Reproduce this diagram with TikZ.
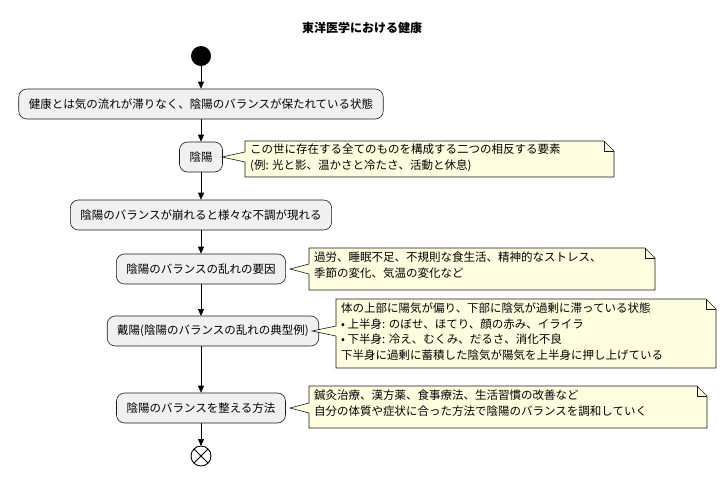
\documentclass[tikz,border=0pt]{standalone}
\usepackage{fontspec}
\setmainfont{Noto Sans CJK JP}
\usetikzlibrary{arrows.meta, positioning}
\tikzset{
  act/.style={draw=black!90, fill=black!6, rounded corners=8pt, line width=0.6pt,
    minimum height=30pt, inner xsep=10pt, font=\fontsize{11.5}{14}\selectfont},
  notebox/.style={draw=black!90, fill=yellow!12, line width=0.6pt},
  notetext/.style={anchor=north west, align=left, inner sep=0pt,
    font=\fontsize{11.5}{15.5}\selectfont},
  flow/.style={-{Triangle[length=7pt,width=6pt]}, line width=0.7pt}
}
\newcommand{\notepoly}[6]{% x1,y1,x2,y2, tipx, tipy
  \fill[notebox] (#1,#2) -- (#3-10,#2) -- (#3,#2+10) -- (#3,#4) -- (#1,#4)
    -- (#1,#6+5) -- (#5,#6) -- (#1,#6-5) -- cycle;
  \draw[notebox, fill=none] (#3-10,#2) -- (#3-10,#2+10) -- (#3,#2+10);
}
\begin{document}
\begin{tikzpicture}[x=1pt, y=-1pt]
  \useasboundingbox (0,0) rectangle (727,477);
  \node[font=\bfseries\fontsize{12}{14}\selectfont] (title) at (362,28) {東洋医学における健康};
  \fill (201,56) circle (10) coordinate (start);
  \node[act] (health) at (201,104) {健康とは気の流れが滞りなく、陰陽のバランスが保たれている状態};
  \node[act] (yinyang) at (201,157) {陰陽};
  \node[act] (broken) at (201,215) {陰陽のバランスが崩れると様々な不調が現れる};
  \node[act] (cause) at (201,269) {陰陽のバランスの乱れの要因};
  \node[act] (daiyo) at (213,331) {戴陽(陰陽のバランスの乱れの典型例)};
  \node[act] (method) at (201,408) {陰陽のバランスを整える方法};
  \draw[line width=0.9pt, fill=white] (201,456) circle (10);
  \draw[line width=0.9pt] (201,456) ++(-7,-7) -- ++(14,14) ++(0,-14) -- ++(-14,14);
  \coordinate (stop) at (201,446);
  % flow
  \draw[flow] (201,66) -- (health);
  \draw[flow] (health) -- (yinyang);
  \draw[flow] (yinyang) -- (broken);
  \draw[flow] (broken) -- (cause);
  \draw[flow] (cause) -- (201,316);
  \draw[flow] (201,346) -- (method);
  \draw[flow] (method) -- (stop);
  % notes
  \notepoly{245}{141}{614}{177}{222}{157}
  \node[notetext] (n1) at (250,144) {この世に存在する全てのものを構成する二つの相反する要素\\(例: 光と影、温かさと冷たさ、活動と休息)};
  \notepoly{309}{248}{655}{290}{290}{269}
  \node[notetext] (n2) at (314,252) {過労、睡眠不足、不規則な食生活、精神的なストレス、\\季節の変化、気温の変化など};
  \notepoly{336}{299}{716}{368}{312}{331}
  \node[notetext] (n3) at (341,303) {体の上部に陽気が偏り、下部に陰気が過剰に滞っている状態\\• 上半身: のぼせ、ほてり、顔の赤み、イライラ\\• 下半身: 冷え、むくみ、だるさ、消化不良\\下半身に過剰に蓄積した陰気が陽気を上半身に押し上げている};
  \notepoly{309}{386}{707}{428}{290}{408}
  \node[notetext] (n4) at (314,390) {鍼灸治療、漢方薬、食事療法、生活習慣の改善など\\自分の体質や症状に合った方法で陰陽のバランスを調和していく};
\end{tikzpicture}
\end{document}
